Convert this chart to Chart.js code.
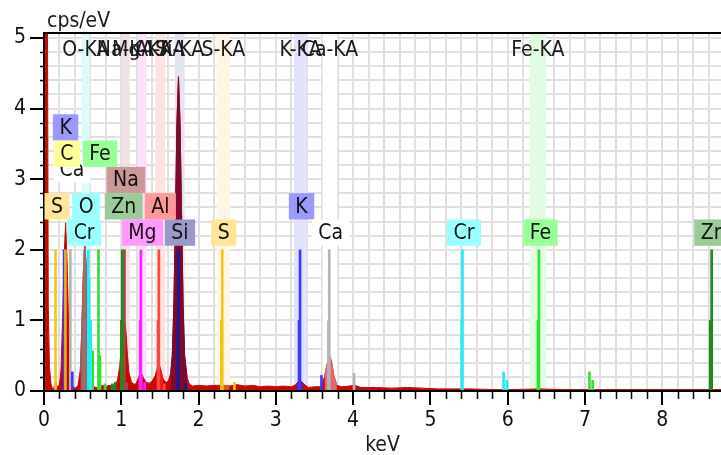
<!DOCTYPE html>
<html>
<head>
<meta charset="utf-8">
<script src="https://cdn.jsdelivr.net/npm/chart.js@4.4.1/dist/chart.umd.min.js"></script>
<style>
  html, body { margin: 0; padding: 0; background: #fff; }
  canvas { display: block; }
</style>
</head>
<body>
<canvas id="spectrumChart" width="721" height="455"></canvas>
<script>
// EDS spectrum: energy (keV) against counts per eV
const spectrumKeV = [
  0.00, 0.045, 0.055, 0.07, 0.09, 0.11, 0.13, 0.15, 0.17, 0.20,
  0.22, 0.24, 0.26, 0.28, 0.30, 0.32, 0.34, 0.36, 0.38, 0.41,
  0.44, 0.47, 0.49, 0.51, 0.53, 0.55, 0.57, 0.59, 0.61, 0.64,
  0.68, 0.72, 0.76, 0.80, 0.84, 0.88, 0.92, 0.95, 0.98, 1.00,
  1.02, 1.04, 1.06, 1.08, 1.10, 1.13, 1.16, 1.19, 1.22, 1.25,
  1.28, 1.32, 1.36, 1.40, 1.44, 1.47, 1.49, 1.51, 1.54, 1.58,
  1.61, 1.64, 1.66, 1.68, 1.70, 1.72, 1.74, 1.76, 1.78, 1.80,
  1.82, 1.85, 1.88, 1.92, 2.00, 2.10, 2.20, 2.30, 2.40, 2.50,
  2.60, 2.70, 2.80, 2.90, 3.00, 3.10, 3.20, 3.26, 3.31, 3.36,
  3.42, 3.50, 3.58, 3.63, 3.67, 3.69, 3.72, 3.75, 3.79, 3.85,
  3.95, 4.02, 4.10, 4.30, 4.50, 4.70, 4.90, 5.10, 5.30, 5.50,
  5.80, 6.10, 6.40, 6.70, 7.00, 7.50, 8.00, 8.40, 8.76
];
const spectrumCps = [
  5.30, 5.30, 1.20, 0.35, 0.10, 0.03, 0.05, 0.13, 0.06, 0.08,
  0.30, 1.00, 1.90, 2.38, 1.80, 0.85, 0.30, 0.12, 0.05, 0.04,
  0.08, 0.30, 0.90, 1.70, 2.06, 1.70, 1.00, 0.40, 0.15, 0.06,
  0.05, 0.06, 0.08, 0.06, 0.08, 0.07, 0.10, 0.15, 0.35, 0.62,
  0.90, 1.00, 0.85, 0.50, 0.26, 0.13, 0.10, 0.10, 0.18, 0.27,
  0.20, 0.12, 0.11, 0.14, 0.22, 0.34, 0.37, 0.30, 0.17, 0.12,
  0.14, 0.26, 0.50, 1.20, 2.40, 3.80, 4.45, 3.80, 2.50, 1.20,
  0.50, 0.20, 0.10, 0.07, 0.08, 0.07, 0.08, 0.08, 0.07, 0.09,
  0.07, 0.08, 0.06, 0.07, 0.06, 0.07, 0.06, 0.09, 0.16, 0.10,
  0.05, 0.06, 0.06, 0.20, 0.42, 0.52, 0.42, 0.22, 0.08, 0.06,
  0.07, 0.08, 0.05, 0.05, 0.04, 0.05, 0.04, 0.03, 0.03, 0.03,
  0.02, 0.02, 0.03, 0.02, 0.02, 0.02, 0.02, 0.02, 0.02
];

// peak areas shaded in the element colour
const shadeElement = ['O', 'Mg', 'Al', 'Si', 'S', 'K', 'Ca'];
const shadeFrom    = [0.47, 1.215, 1.45, 1.64, 2.23, 3.24, 3.61];
const shadeTo      = [0.62, 1.30, 1.56, 1.86, 2.41, 3.40, 3.79];

// characteristic line markers
const markerElement = [
  'S', 'S', 'S', 'S',
  'C',
  'K', 'K', 'K', 'K', 'K',
  'Ca', 'Ca', 'Ca', 'Ca',
  'O', 'O',
  'Cr', 'Cr', 'Cr', 'Cr', 'Cr', 'Cr', 'Cr',
  'Fe', 'Fe', 'Fe', 'Fe', 'Fe', 'Fe', 'Fe', 'Fe',
  'Zn', 'Zn', 'Zn', 'Zn', 'Zn', 'Zn',
  'Na', 'Na',
  'Mg', 'Mg', 'Mg',
  'Al', 'Al', 'Al',
  'Si', 'Si', 'Si'
];
const markerKeV = [
  0.149, 2.295, 2.307, 2.464,
  0.277,
  0.260, 0.366, 3.300, 3.313, 3.590,
  0.341, 3.680, 3.691, 4.012,
  0.515, 0.525,
  0.573, 0.585, 0.604, 5.405, 5.415, 5.947, 5.990,
  0.630, 0.705, 0.725, 0.790, 6.391, 6.404, 7.058, 7.100,
  0.884, 0.920, 1.000, 1.012, 8.620, 8.639,
  1.041, 1.071,
  1.245, 1.254, 1.302,
  1.476, 1.486, 1.557,
  1.730, 1.740, 1.836
];
const markerHeight = [
  2.0, 1.0, 2.0, 0.12,
  2.0,
  2.0, 0.27, 1.0, 2.0, 0.22,
  2.0, 1.0, 2.0, 0.25,
  1.0, 2.0,
  2.0, 1.6, 1.0, 1.0, 2.0, 0.27, 0.15,
  0.57, 2.0, 0.5, 0.1, 1.0, 2.0, 0.27, 0.15,
  0.1, 0.12, 1.0, 2.0, 1.0, 2.0,
  2.0, 0.12,
  1.0, 2.0, 0.12,
  1.0, 2.0, 0.1,
  1.0, 2.0, 0.12
];

// element tags
const tagElement = ['K', 'Ca', 'C', 'Fe', 'Na', 'S', 'O', 'Zn', 'Al', 'Cr', 'Mg', 'Si', 'S', 'K', 'Ca', 'Cr', 'Fe', 'Zn'];
const tagKeV     = [0.260, 0.341, 0.277, 0.705, 1.041, 0.149, 0.525, 1.012, 1.486, 0.500, 1.254, 1.740, 2.307, 3.313, 3.691, 5.415, 6.404, 8.639];

// regions of interest
const roiName   = ['O-KA', 'Na-KA', 'Mg-KA', 'Al-KA', 'Si-KA', 'S-KA', 'K-KA', 'Ca-KA', 'Fe-KA'];
const roiCenter = [0.54, 1.055, 1.27, 1.505, 1.755, 2.32, 3.32, 3.70, 6.39];
const roiWidth  = [0.107, 0.107, 0.116, 0.13, 0.13, 0.17, 0.17, 0.19, 0.215];

// styling
const tagRow = [4, 2.4, 3, 3, 2, 1, 1, 1, 1, 0, 0, 0, 0, 1, 0, 0, 0, 0];
const lineColor = {
  S: '#f5c518', C: '#e0b020', K: '#3a3aff', Ca: '#b4b4b4', O: '#9a7070', Cr: '#20eef6',
  Fe: '#30e030', Zn: '#208a20', Na: '#a04848', Mg: '#ff20ff', Al: '#ff4444', Si: '#1a1a90'
};
const tagColor = {
  S: '#ffe599', C: '#ffff99', K: '#9999ff', Ca: '#ffffff', O: '#99ffff', Cr: '#99ffff',
  Fe: '#99ff99', Zn: '#99cc99', Na: '#cc9999', Mg: '#ff99ff', Al: '#ff9999', Si: '#9999cc'
};
const shadeColor = {
  O: '#a0605a', Mg: '#d0307a', Al: '#f01818', Si: '#7c0a2c', S: '#d85a10', K: '#7a1a70', Ca: '#e06a6a'
};
const bandColor = ['#dcfafa', '#f0e2e2', '#fce0fc', '#fde2e2', '#e4e4f0', '#fdf6e2', '#e2e2fc', '#ffffff', '#e2fce2'];
const spectrumRed = '#c80800';
const FAMILY = '"DejaVu Sans Condensed", "DejaVu Sans", sans-serif';
const FONT = '21px ' + FAMILY;

const spectrum = spectrumKeV.map((e, i) => ({x: e, y: spectrumCps[i]}));

const shadeSets = shadeElement.map((el, k) => ({
  type: 'line',
  data: spectrum.filter(p => p.x >= shadeFrom[k] && p.x <= shadeTo[k]),
  backgroundColor: shadeColor[el],
  borderColor: shadeColor[el],
  borderWidth: 1,
  pointRadius: 0,
  fill: 'origin',
  order: 2
}));

const markerSets = Object.keys(lineColor).map(el => ({
  type: 'bar',
  data: markerKeV.map((e, i) => ({x: e, y: markerHeight[i], el: markerElement[i]}))
                 .filter(p => p.el === el),
  backgroundColor: lineColor[el],
  barThickness: 2,
  grouped: false,
  order: 1
}));

const isWhole = v => Math.abs(v - Math.round(v)) < 1e-6;

const decorations = {
  id: 'decorations',
  beforeDatasetsDraw(chart) {
    const {ctx, chartArea: a, scales: {x}} = chart;
    ctx.save();
    roiName.forEach((name, i) => {
      const l = x.getPixelForValue(roiCenter[i] - roiWidth[i] / 2);
      const r = x.getPixelForValue(roiCenter[i] + roiWidth[i] / 2);
      ctx.fillStyle = bandColor[i];
      ctx.fillRect(l, a.top + 1, r - l, a.height - 2);
    });
    ctx.restore();
  },
  afterDatasetsDraw(chart) {
    const {ctx, chartArea: a, scales: {x, y}} = chart;
    ctx.save();

    // axis frame
    ctx.strokeStyle = '#000';
    ctx.lineWidth = 2;
    ctx.beginPath();
    ctx.moveTo(a.left, a.top); ctx.lineTo(a.right, a.top);
    ctx.moveTo(a.left, a.top); ctx.lineTo(a.left, a.bottom);
    ctx.moveTo(a.left, a.bottom); ctx.lineTo(a.right, a.bottom);
    ctx.stroke();

    // minor ticks
    ctx.lineWidth = 1.5;
    ctx.beginPath();
    for (let v = 0; v <= x.max + 1e-9; v += 0.2) {
      if (isWhole(v)) continue;
      const px = Math.round(x.getPixelForValue(v)) + 0.5;
      ctx.moveTo(px, a.bottom); ctx.lineTo(px, a.bottom + 8);
    }
    for (let v = 0; v <= y.max + 1e-9; v += 0.2) {
      if (isWhole(v)) continue;
      const py = Math.round(y.getPixelForValue(v)) + 0.5;
      ctx.moveTo(a.left - 4, py); ctx.lineTo(a.left, py);
    }
    ctx.stroke();

    // element tags
    ctx.font = FONT;
    ctx.textAlign = 'center';
    ctx.textBaseline = 'middle';
    const h = 26.3;
    const base = y.getPixelForValue(2) - 4;
    tagElement.forEach((el, i) => {
      const cx = x.getPixelForValue(tagKeV[i]) + 1.5;
      const w = ctx.measureText(el).width + 13;
      const top = base - (tagRow[i] + 1) * h;
      ctx.fillStyle = tagColor[el];
      ctx.fillRect(cx - w / 2, top, w, h);
      ctx.fillStyle = '#111';
      ctx.fillText(el, cx, top + h / 2 + 1);
    });

    // region labels
    ctx.textBaseline = 'alphabetic';
    roiName.forEach((name, i) => {
      ctx.fillStyle = '#1a1a1a';
      ctx.fillText(name, x.getPixelForValue(roiCenter[i]), 56);
    });

    // axis titles
    ctx.textAlign = 'left';
    ctx.fillText('cps/eV', 47, 27);
    ctx.textAlign = 'center';
    ctx.fillText('keV', (a.left + a.right) / 2, 451);
    ctx.restore();
  }
};

Chart.defaults.font.family = FAMILY;
Chart.defaults.font.size = 21;
Chart.defaults.color = '#111';

const chart = new Chart(document.getElementById('spectrumChart'), {
  type: 'line',
  data: {
    datasets: [
      ...markerSets,
      ...shadeSets,
      {
        type: 'line',
        data: spectrum,
        backgroundColor: spectrumRed,
        borderColor: spectrumRed,
        borderWidth: 1,
        pointRadius: 0,
        fill: 'origin',
        order: 3
      }
    ]
  },
  options: {
    responsive: false,
    animation: false,
    devicePixelRatio: 1,
    layout: { padding: { top: 33, right: 0, left: 0, bottom: 0 } },
    plugins: { legend: { display: false }, tooltip: { enabled: false } },
    events: [],
    scales: {
      x: {
        type: 'linear',
        min: 0,
        max: 8.76,
        offset: false,
        afterFit: s => { s.height = 64; },
        grid: {
          offset: false,
          color: '#e0e0e0',
          lineWidth: 2,
          tickLength: 14,
          tickWidth: 2,
          tickColor: c => isWhole(c.tick.value) ? '#000' : 'rgba(0,0,0,0)'
        },
        border: { color: '#000', width: 2 },
        ticks: {
          stepSize: 0.2,
          includeBounds: false,
          autoSkip: false,
          maxRotation: 0,
          padding: 3,
          callback: v => isWhole(v) ? String(Math.round(v)) : ''
        }
      },
      y: {
        min: 0,
        max: 5.07,
        afterFit: s => { s.width = 44; },
        grid: {
          color: '#e0e0e0',
          lineWidth: 2,
          tickLength: 14,
          tickWidth: 2,
          tickColor: c => isWhole(c.tick.value) ? '#000' : 'rgba(0,0,0,0)'
        },
        border: { color: '#000', width: 2 },
        ticks: {
          stepSize: 0.2,
          includeBounds: false,
          autoSkip: false,
          padding: 4,
          callback: v => isWhole(v) ? String(Math.round(v)) : ''
        }
      }
    }
  },
  plugins: [decorations]
});
</script>
</body>
</html>
